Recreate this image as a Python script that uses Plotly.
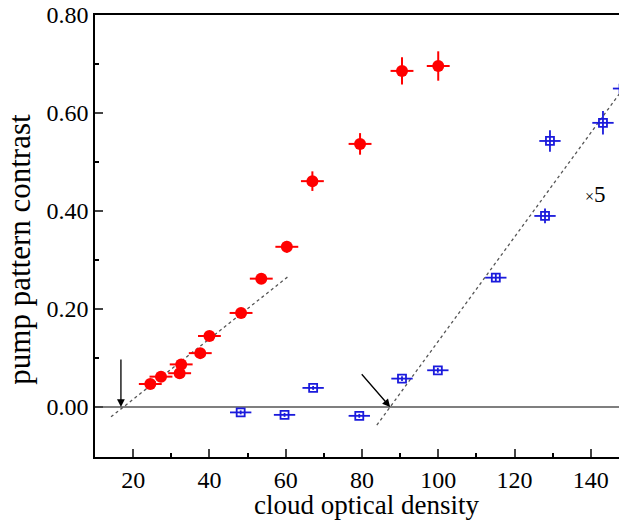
import plotly.graph_objects as go

# Red (filled circles) series
red_x = [24.5, 27.3, 32.2, 32.6, 37.6, 40.0, 48.3, 53.6, 60.3, 67.0, 79.5, 90.5, 100.0]
red_y = [0.047, 0.062, 0.069, 0.087, 0.110, 0.145, 0.192, 0.262, 0.327, 0.461, 0.537, 0.686, 0.696]
red_ex = [3.0, 3.0, 3.0, 3.0, 3.0, 3.0, 3.0, 3.0, 3.0, 3.0, 3.0, 3.0, 3.0]
red_ey = [0.008, 0.008, 0.008, 0.008, 0.008, 0.008, 0.010, 0.010, 0.012, 0.020, 0.022, 0.028, 0.030]

# Blue (open squares) series (x5)
blue_x = [48.2, 59.7, 67.2, 79.3, 90.5, 99.9, 115.1, 128.0, 129.3, 143.2, 148.6]
blue_y = [-0.011, -0.016, 0.039, -0.018, 0.058, 0.075, 0.264, 0.390, 0.543, 0.580, 0.650]
blue_ex = [2.8, 2.8, 2.8, 2.8, 2.8, 2.8, 2.8, 2.8, 2.8, 2.8, 2.8]
blue_ey = [0.004, 0.004, 0.004, 0.004, 0.005, 0.005, 0.008, 0.015, 0.022, 0.024, 0.026]

# Linear fits (dashed)
red_fit_x = [14.2, 60.6]
red_fit_y = [-0.020, 0.266]
blue_fit_x = [83.9, 148.6]
blue_fit_y = [-0.037, 0.651]

# Threshold arrows: (tail x, tail y) -> (head x, head y)
arrow_tail_x = [16.8, 79.6]
arrow_tail_y = [0.100, 0.070]
arrow_head_x = [16.8, 87.4]
arrow_head_y = [0.0, 0.0]

x_range = [10, 149.5]
y_range = [-0.102, 0.8001]
x_ticks = [20, 40, 60, 80, 100, 120, 140]
y_ticks = [0.0, 0.2, 0.4, 0.6, 0.8]
y_ticklabels = ["0.00", "0.20", "0.40", "0.60", "0.80"]

FONT = "Liberation Serif, Times New Roman, serif"

fig = go.Figure()

# zero line
fig.add_trace(go.Scatter(x=x_range, y=[0, 0], mode="lines",
                         line=dict(color="black", width=1.2), showlegend=False, hoverinfo="skip"))

fig.add_trace(go.Scatter(x=red_fit_x, y=red_fit_y, mode="lines",
                         line=dict(color="#555555", width=1.3, dash="3px,3px"), showlegend=False))
fig.add_trace(go.Scatter(x=blue_fit_x, y=blue_fit_y, mode="lines",
                         line=dict(color="#555555", width=1.3, dash="3px,3px"), showlegend=False))

fig.add_trace(go.Scatter(
    x=red_x, y=red_y, mode="markers",
    marker=dict(symbol="circle", size=12, color="#ff0000", line=dict(width=0)),
    error_x=dict(type="data", array=red_ex, color="#ff0000", thickness=2, width=0),
    error_y=dict(type="data", array=red_ey, color="#ff0000", thickness=2, width=0),
    showlegend=False))

fig.add_trace(go.Scatter(
    x=blue_x, y=blue_y, mode="markers",
    marker=dict(symbol="square-open", size=8, color="#1a1adc", line=dict(width=1.8)),
    error_x=dict(type="data", array=blue_ex, color="#1a1adc", thickness=1.8, width=0),
    error_y=dict(type="data", array=blue_ey, color="#1a1adc", thickness=1.8, width=0),
    showlegend=False))

for tx, ty, hx, hy in zip(arrow_tail_x, arrow_tail_y, arrow_head_x, arrow_head_y):
    fig.add_annotation(x=hx, y=hy, ax=tx, ay=ty, xref="x", yref="y", axref="x", ayref="y",
                       text="", showarrow=True, arrowhead=2, arrowsize=1.2, arrowwidth=1.3,
                       arrowcolor="black")

fig.add_annotation(x=141.2, y=0.433, xref="x", yref="y",
                   text="<span style='font-size:16px'>×</span>5", showarrow=False,
                   font=dict(family=FONT, size=23, color="black"))

# axis titles
fig.add_annotation(x=0.511, y=-0.109, xref="paper", yref="paper", text="cloud optical density",
                   showarrow=False, xanchor="center", yanchor="middle",
                   font=dict(family=FONT, size=27, color="black"))
fig.add_annotation(x=-0.142, y=0.47, xref="paper", yref="paper", text="pump pattern contrast",
                   showarrow=False, xanchor="center", yanchor="middle", textangle=-90,
                   font=dict(family=FONT, size=31, color="black"))

fig.update_layout(
    width=627, height=524,
    margin=dict(l=87, r=8, t=7, b=75),
    plot_bgcolor="white", paper_bgcolor="white",
    font=dict(family=FONT, size=24, color="black"),
    xaxis=dict(range=x_range, tickvals=x_ticks, ticks="inside", ticklen=8, tickwidth=1.5,
               showline=True, linecolor="black", linewidth=1.5, mirror=True,
               showgrid=False, zeroline=False, automargin=False, ticklabeloverflow="allow",
               minor=dict(tickvals=[30, 50, 70, 90, 110, 130], ticks="inside", ticklen=4,
                          tickwidth=1.5, tickcolor="black", showgrid=False),
               tickfont=dict(family=FONT, size=24)),
    yaxis=dict(range=y_range, tickvals=y_ticks, ticktext=y_ticklabels, ticks="inside",
               ticklen=8, tickwidth=1.5,
               showline=True, linecolor="black", linewidth=1.5, mirror=False,
               showgrid=False, zeroline=False, automargin=False, ticklabeloverflow="allow",
               minor=dict(tickvals=[0.1, 0.3, 0.5, 0.7], ticks="inside", ticklen=4,
                          tickwidth=1.5, tickcolor="black", showgrid=False),
               tickfont=dict(family=FONT, size=24)),
)

fig.write_html("out.html")
